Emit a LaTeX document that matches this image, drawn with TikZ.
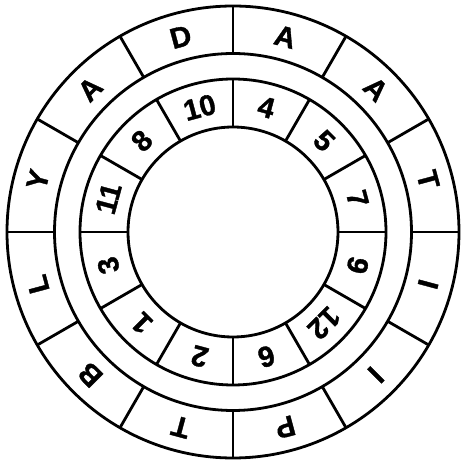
\documentclass[tikz,border=0pt]{standalone}
\usepackage{fontspec}
\setmainfont{Liberation Sans}[BoldFeatures={FakeBold=1.2}]
\begin{document}
\begin{tikzpicture}[
  ring/.style={draw=black, line width=2.8pt},
  lbl/.style={font=\bfseries\fontsize{29}{29}\selectfont, inner sep=0pt, anchor=center},
]
\useasboundingbox (-233pt,-233pt) rectangle (233pt,232pt);
\draw[ring] (0,0) circle[radius=226pt];
\draw[ring] (0,0) circle[radius=178.5pt];
\draw[ring] (0,0) circle[radius=153pt];
\draw[ring] (0,0) circle[radius=105pt];
\foreach \a in {0,30,...,330} {
  \draw[ring] (\a:178.5pt) -- (\a:226pt);
  \draw[ring] (\a:105pt) -- (\a:153pt);
}
\foreach \t [count=\i from 0] in {D,A,A,T,I,I,P,T,B,L,Y,A} {
  \pgfmathsetmacro{\ang}{105-30*\i}
  \node[lbl, rotate=\ang-90] (L\i) at (\ang:202pt) {\t};
}
\foreach \t [count=\i from 0] in {10,4,5,7,9,12,6,2,1,3,11,8} {
  \pgfmathsetmacro{\ang}{105-30*\i}
  \node[lbl, rotate=\ang-90] (N\i) at (\ang:129pt) {\t};
}
\end{tikzpicture}
\end{document}
